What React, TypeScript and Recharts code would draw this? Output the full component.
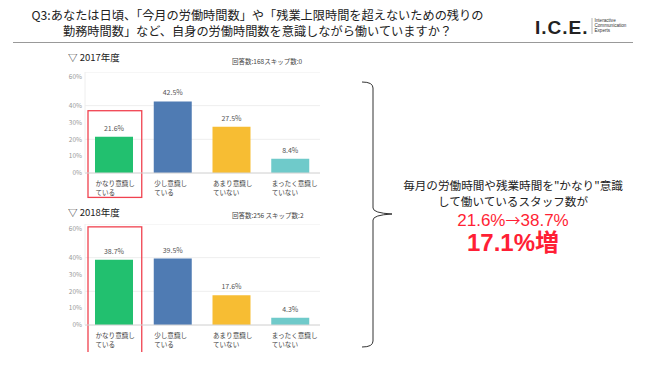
import React from 'react';
import { BarChart, Bar, XAxis, YAxis, CartesianGrid, Cell, LabelList, ReferenceArea } from 'recharts';

const categories = ['かなり意識している', '少し意識している', 'あまり意識していない', 'まったく意識していない'];
const values2017 = [21.6, 42.5, 27.5, 8.4];
const values2018 = [38.7, 39.5, 17.6, 4.3];
const yTicks = [0, 10, 20, 30, 40, 50, 60];
const barColors = ['#22c06f', '#4f7bb3', '#f7bd33', '#6fcaca'];

const titleLines = [
  'Q3:あなたは日頃、「今月の労働時間数」や「残業上限時間を超えないための残りの',
  '勤務時間数」など、自身の労働時間数を意識しながら働いていますか？',
];
const headers = ['▽ 2017年度', '▽ 2018年度'];
const respondents = ['回答数:168スキップ数:0', '回答数:256 スキップ数:2'];
const noteLines = ['毎月の労働時間や残業時間を"かなり"意識', 'して働いているスタッフ数が'];
const changeText = '21.6%→38.7%';
const increaseText = '17.1%増';

const FONT = '"Noto Sans CJK JP", "Noto Sans", sans-serif';
const LATIN_FIRST = '"Liberation Sans", "Noto Sans CJK JP", sans-serif';

const CategoryTick = (props: any) => {
  const { x, y, payload } = props;
  const parts: string[] = String(payload.value).split(/(?=てい)/);
  return (
    <g>
      {parts.map((p, i) => (
        <text key={i} x={x - 19} y={y + 13 + i * 8.5} fontSize={6.6} fill="#444" fontFamily={FONT} textAnchor="start">
          {p}
        </text>
      ))}
    </g>
  );
};

const RedBox = (props: any) => {
  const { x, y, width, height } = props;
  return <rect x={x + 3} y={y} width={width - 5} height={height} fill="none" stroke="#f0424f" strokeWidth={1.3} />;
};

function Panel({ values, top, boxLow, boxHigh }: { values: number[]; top: number; boxLow: number; boxHigh: number }) {
  const data = categories.map((c, i) => ({ name: c, value: values[i] }));
  return (
    <div style={{ position: 'absolute', left: 0, top }}>
      <BarChart width={330} height={128} data={data} margin={{ top: 0, right: 10, bottom: 0, left: 25 }}>
        <CartesianGrid vertical={false} stroke="#eeeeee" />
        <XAxis
          dataKey="name"
          height={27}
          tickLine={false}
          tickSize={0}
          tickMargin={0}
          axisLine={{ stroke: '#d6d6d6' }}
          tick={<CategoryTick />}
          interval={0}
        />
        <YAxis
          width={60}
          domain={[0, 60]}
          ticks={yTicks}
          tickFormatter={(v: number) => `${v}%`}
          tickLine={false}
          tickSize={0}
          tickMargin={3}
          axisLine={{ stroke: '#eeeeee' }}
          tick={{ fontSize: 6.5, fill: '#999', fontFamily: FONT }}
        />
        <Bar dataKey="value" barSize={38} isAnimationActive={false}>
          {data.map((d, i) => (
            <Cell key={i} fill={barColors[i]} />
          ))}
          <LabelList
            dataKey="value"
            position="top"
            offset={6}
            formatter={(v: any) => `${Number(v).toFixed(1)}%`}
            style={{ fontSize: 7, fill: '#555', fontFamily: FONT }}
          />
        </Bar>
        <ReferenceArea
          x1={categories[0]}
          x2={categories[0]}
          y1={boxLow}
          y2={boxHigh}
          ifOverflow="visible"
          shape={<RedBox />}
        />
      </BarChart>
    </div>
  );
}

export default function App() {
  const [fromPct, toPct] = changeText.split('→');
  return (
    <div
      style={{
        position: 'absolute',
        left: 0,
        top: 0,
        width: 650,
        height: 365,
        background: '#fff',
        fontFamily: FONT,
        overflow: 'hidden',
      }}
    >
      <svg width={650} height={365} style={{ position: 'absolute', left: 0, top: 0 }}>
        {titleLines.map((t, i) => (
          <text key={i} x={257.5} y={19.5 + i * 16.5} fontSize={12.2} fill="#222" textAnchor="middle" fontFamily={FONT}>
            {t}
          </text>
        ))}
        <line x1={13} x2={633} y1={42.5} y2={42.5} stroke="#999" strokeWidth={1} />
        <text x={535} y={34} fontSize={19} fontWeight="bold" fill="#222" letterSpacing={1} fontFamily='"Liberation Sans", Arial, sans-serif'>
          I.C.E.
        </text>
        <line x1={592} x2={592} y1={18} y2={34} stroke="#888" strokeWidth={0.6} />
        {['Interactive', 'Communication', 'Experts'].map((t, i) => (
          <text key={t} x={594.5} y={22 + i * 5} fontSize={4.6} fill="#333" fontFamily='"Liberation Sans", Arial, sans-serif'>
            {t}
          </text>
        ))}
        <text x={68} y={60.5} fontSize={9.5} fill="#222" fontFamily={FONT}>{headers[0]}</text>
        <text x={232} y={63.5} fontSize={6.5} fill="#444" fontFamily={FONT}>{respondents[0]}</text>
        <text x={68} y={215.5} fontSize={9.5} fill="#222" fontFamily={FONT}>{headers[1]}</text>
        <text x={232} y={217.5} fontSize={6.5} fill="#444" fontFamily={FONT}>{respondents[1]}</text>
        <path
          d="M 362 82 Q 373 82 373 88 L 373 208 Q 373 213 392 214 Q 373 215 373 220 L 373 341 Q 373 347 362 347"
          fill="none"
          stroke="#333"
          strokeWidth={1}
        />
        {noteLines.map((t, i) => (
          <text key={i} x={513} y={190 + i * 16} fontSize={11.6} fill="#222" textAnchor="middle" fontFamily={FONT}>
            {t}
          </text>
        ))}
        <text x={513} y={225.5} fontSize={17} fill="#ff1f35" textAnchor="middle" fontFamily={LATIN_FIRST}>
          {fromPct}
          <tspan fontFamily={FONT} fontSize={15}>→</tspan>
          {toPct}
        </text>
        <text x={513} y={251} fontSize={24} fontWeight="bold" fill="#ff1f35" textAnchor="middle" fontFamily={LATIN_FIRST}>
          {increaseText}
        </text>
      </svg>
      <Panel values={values2017} top={72} boxLow={-14.5} boxHigh={37} />
      <Panel values={values2018} top={224} boxLow={-17.3} boxHigh={58.3} />
    </div>
  );
}
